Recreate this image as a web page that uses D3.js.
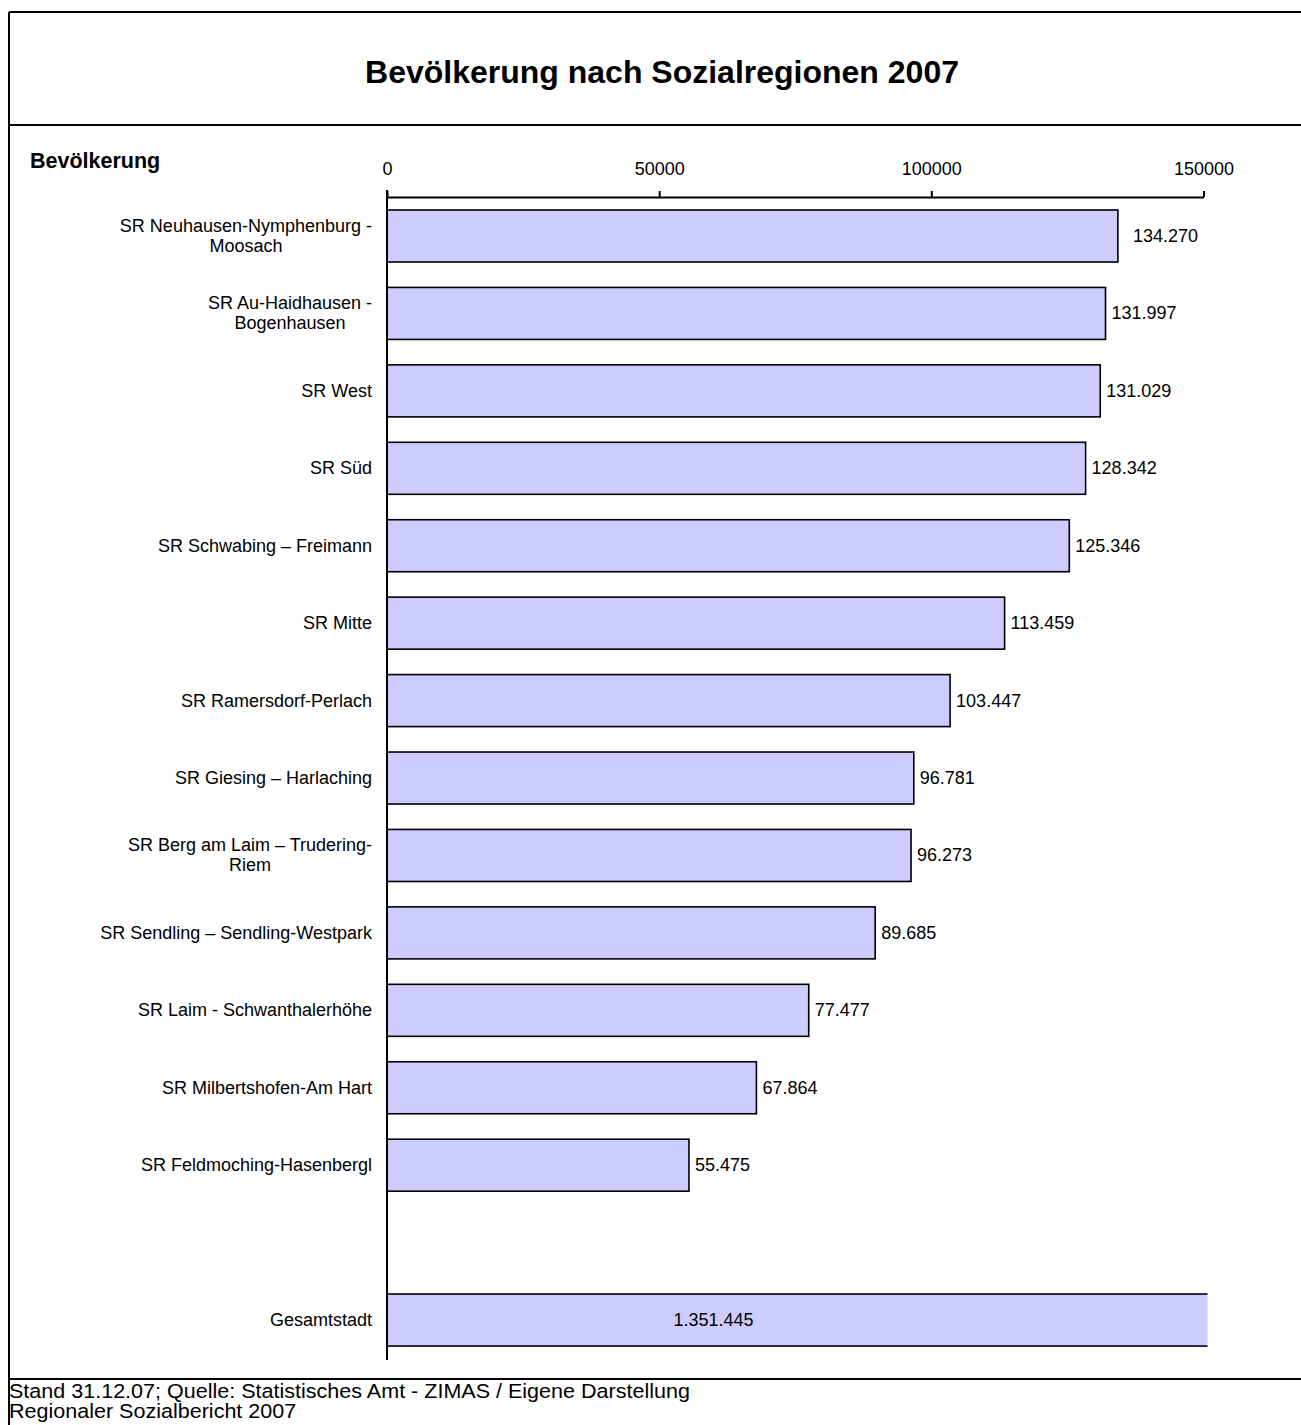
<!DOCTYPE html>
<html><head><meta charset="utf-8">
<script src="https://cdn.jsdelivr.net/npm/d3@7"></script>
<style>
html,body{margin:0;padding:0;background:#fff;}
svg{display:block;font-family:"Liberation Sans",Arial,sans-serif;}
</style></head>
<body>
<svg id="chart" width="1301" height="1425"></svg>
<script>
const title = "Bevölkerung nach Sozialregionen 2007";
const axisTitle = "Bevölkerung";
const categories = [
  "SR Neuhausen-Nymphenburg -\nMoosach",
  "SR Au-Haidhausen -\nBogenhausen",
  "SR West",
  "SR Süd",
  "SR Schwabing – Freimann",
  "SR Mitte",
  "SR Ramersdorf-Perlach",
  "SR Giesing – Harlaching",
  "SR Berg am Laim – Trudering-\nRiem",
  "SR Sendling – Sendling-Westpark",
  "SR Laim - Schwanthalerhöhe",
  "SR Milbertshofen-Am Hart",
  "SR Feldmoching-Hasenbergl",
  "",
  "Gesamtstadt"
];
const values = [134270, 131997, 131029, 128342, 125346, 113459, 103447, 96781, 96273, 89685, 77477, 67864, 55475, null, 1351445];
const tickValues = [0, 50000, 100000, 150000];
const footer = ["Stand 31.12.07; Quelle: Statistisches Amt - ZIMAS / Eigene Darstellung", "Regionaler Sozialbericht 2007"];

const svg = d3.select("#chart");
const de = d3.formatLocale({decimal: ",", thousands: ".", grouping: [3], currency: ["", " €"]});
const fmt = de.format(",d");

// frame
const frame = svg.append("g").attr("stroke", "#000").attr("stroke-width", 2);
frame.append("line").attr("x1", 9).attr("x2", 1301).attr("y1", 12).attr("y2", 12);
frame.append("line").attr("x1", 9).attr("x2", 9).attr("y1", 12).attr("y2", 1425);
frame.append("line").attr("x1", 9).attr("x2", 1301).attr("y1", 125).attr("y2", 125);
frame.append("line").attr("x1", 9).attr("x2", 1301).attr("y1", 1379).attr("y2", 1379);

svg.append("text").attr("x", 662).attr("y", 83).attr("text-anchor", "middle")
  .attr("font-size", 32).attr("font-weight", "bold").text(title);
svg.append("text").attr("x", 30).attr("y", 168)
  .attr("font-size", 21.5).attr("font-weight", "bold").text(axisTitle);

const x = d3.scaleLinear().domain([0, 150000]).range([387, 1203.5]);
const y = d3.scaleBand().domain(d3.range(categories.length)).range([197.3, 1358.75]).paddingInner(0.3284).paddingOuter(0.164);

svg.append("defs").append("clipPath").attr("id", "clip")
  .append("rect").attr("x", 380).attr("y", 150).attr("width", 1207.5 - 380).attr("height", 1250);

// bars
const data = values.map((v, i) => ({v, i, c: categories[i]})).filter(d => d.v != null);
svg.append("g").attr("clip-path", "url(#clip)").selectAll("rect").data(data).join("rect")
  .attr("x", x(0)).attr("y", d => y(d.i))
  .attr("width", d => x(d.v) - x(0)).attr("height", y.bandwidth())
  .attr("fill", "#CCCCFF").attr("stroke", "#000").attr("stroke-width", 1.6);

// axis
const axis = d3.axisTop(x).tickValues(tickValues).tickFormat(d3.format("d")).tickSize(6).tickSizeOuter(0);
const ag = svg.append("g").attr("transform", "translate(0,197)").call(axis);
ag.select(".domain").attr("stroke", "#000").attr("stroke-width", 2);
ag.selectAll(".tick line").attr("stroke", "#000").attr("stroke-width", 2);
ag.selectAll(".tick text").attr("font-size", 18).attr("fill", "#000").attr("y", -22)
  .attr("font-family", "Liberation Sans, Arial, sans-serif");

svg.append("line").attr("x1", x(0)).attr("x2", x(0)).attr("y1", 190).attr("y2", 1360)
  .attr("stroke", "#000").attr("stroke-width", 2);

// category labels
const lg = svg.append("g").attr("font-size", 18).attr("fill", "#000");
categories.forEach((c, i) => {
  if (!c) return;
  const lines = c.split("\n");
  const cy = y(i) + y.bandwidth() / 2;
  const t = lg.append("text").attr("text-anchor", "end");
  if (lines.length === 1) {
    t.attr("x", 372).attr("y", cy + 6).text(c);
  } else {
    const widths = lines.map(l => { const tmp = lg.append("text").text(l); const w = tmp.node().getComputedTextLength(); tmp.remove(); return w; });
    const maxW = d3.max(widths);
    t.attr("text-anchor", "middle");
    lines.forEach((l, k) => {
      t.append("tspan").attr("x", 372 - maxW / 2).attr("y", cy + 6 + (k - (lines.length - 1) / 2) * 20).text(l);
    });
  }
});

// value labels
const vg = svg.append("g").attr("font-size", 18).attr("fill", "#000");
data.forEach(d => {
  const cy = y(d.i) + y.bandwidth() / 2 + 6;
  if (d.c === "Gesamtstadt") {
    vg.append("text").attr("x", x(60000)).attr("y", cy).attr("text-anchor", "middle").text(fmt(d.v));
  } else {
    vg.append("text").attr("x", x(d.v) + (d.i === 0 ? 15 : 6)).attr("y", cy).text(fmt(d.v));
  }
});

// footer
const fg = svg.append("g").attr("font-size", 19.5).attr("fill", "#000")
  .attr("transform", "translate(9,0) scale(1.105,1)");
footer.forEach((f, k) => fg.append("text").attr("x", 0).attr("y", 1398.5 + k * 20).text(f));
</script>
</body></html>
